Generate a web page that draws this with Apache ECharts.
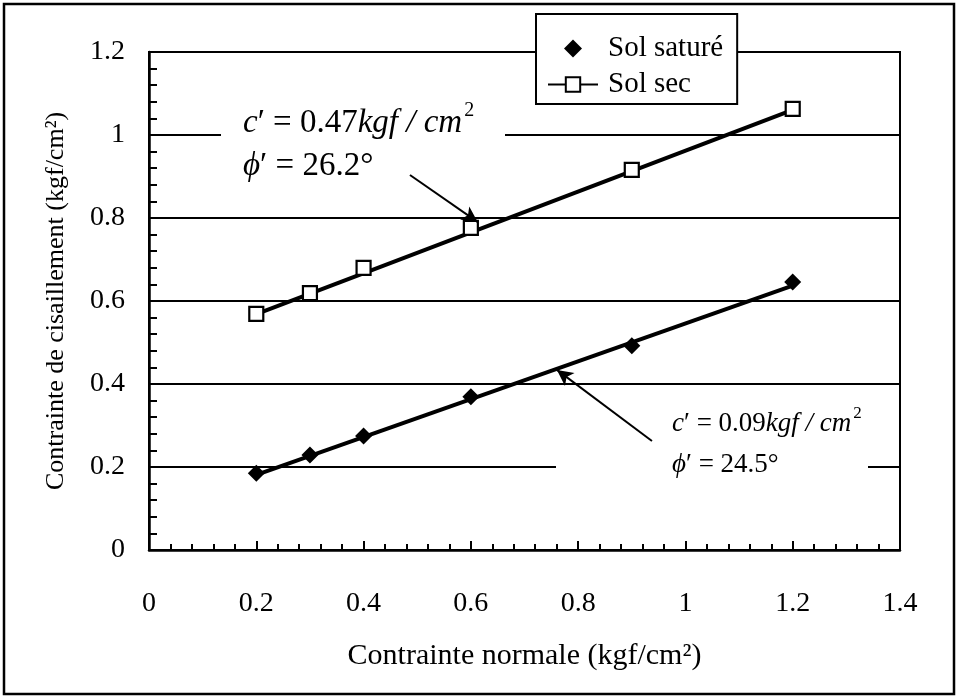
<!DOCTYPE html>
<html>
<head>
<meta charset="utf-8">
<script src="https://cdn.jsdelivr.net/npm/echarts@6/dist/echarts.min.js"></script>
<style>
  html, body { margin: 0; padding: 0; background: #fff; }
  #chart { width: 958px; height: 699px; }
</style>
</head>
<body>
<div id="chart"></div>
<script>
// Normal stress (kgf/cm²) applied in each shear test
const normalStress = [0.2, 0.3, 0.4, 0.6, 0.9, 1.2];
// Measured shear strength (kgf/cm²)
const shearSaturated = [0.185, 0.229, 0.275, 0.369, 0.492, 0.646];
const shearDry = [0.569, 0.619, 0.680, 0.776, 0.916, 1.063];

// Mohr-Coulomb parameters: cohesion c' (kgf/cm²) and friction angle phi' (deg)
const dryParams = { c: 0.47, phi: 26.2 };
const satParams = { c: 0.09, phi: 24.5 };
const fitRange = [0.2, 1.2];

const xTicks = { min: 0, max: 1.4, interval: 0.2 };
const yTicks = { min: 0, max: 1.2, interval: 0.2 };

const serif = '"Liberation Serif", "Times New Roman", serif';

function envelope(p) {
  const t = Math.tan(p.phi * Math.PI / 180);
  return fitRange.map(x => [x, p.c + t * x]);
}

const chart = echarts.init(document.getElementById('chart'), null, { renderer: 'canvas' });

const arrowStyle = {
  silent: true,
  symbol: ['none', 'arrow'],
  symbolSize: [12, 16],
  lineStyle: { color: '#000', width: 2, type: 'solid' },
  label: { show: false },
  emphasis: { disabled: true }
};

const mathRich = (size) => ({
  i: { fontFamily: serif, fontStyle: 'italic', fontSize: size, color: '#000' },
  n: { fontFamily: serif, fontSize: size, color: '#000' },
  sup: { fontFamily: serif, fontSize: Math.round(size * 0.62), color: '#000', verticalAlign: 'top', padding: [0, 0, Math.round(size * 0.75), 2] }
});

const diamondIcon = 'path://M8,0 L16,8 L8,16 L0,8 Z';

chart.setOption({
  animation: false,
  backgroundColor: '#fff',
  grid: {
    left: 149, right: 58, top: 52, bottom: 149,
    show: true, borderColor: '#000', borderWidth: 2, backgroundColor: 'transparent'
  },
  legend: {
    left: 536, top: 14,
    orient: 'vertical',
    backgroundColor: '#fff',
    borderColor: '#000', borderWidth: 2,
    padding: [20, 14, 5, 11],
    itemWidth: 50, itemHeight: 18, itemGap: 7,
    symbolKeepAspect: true,
    textStyle: { fontFamily: serif, fontSize: 29, color: '#000', padding: [0, 0, 0, 5] },
    data: [
      { name: 'Sol saturé', icon: diamondIcon, itemStyle: { color: '#000', opacity: 1 } },
      { name: 'Sol sec', lineStyle: { color: '#000', width: 2, opacity: 1 } }
    ],
    selectedMode: false
  },
  xAxis: {
    type: 'value',
    min: xTicks.min, max: xTicks.max, interval: xTicks.interval,
    name: 'Contrainte normale (kgf/cm²)',
    nameLocation: 'middle', nameGap: 91,
    nameTextStyle: { fontFamily: serif, fontSize: 30, color: '#000' },
    axisLine: { show: true, lineStyle: { color: '#000', width: 2.5 } },
    axisTick: { show: true, inside: true, length: 9, lineStyle: { color: '#000', width: 2 } },
    minorTick: { show: true, splitNumber: 5, length: 6, lineStyle: { color: '#000', width: 2 } },
    axisLabel: { fontFamily: serif, fontSize: 28, color: '#000', margin: 40, formatter: v => String(+v.toFixed(1)) },
    splitLine: { show: false }
  },
  yAxis: {
    type: 'value',
    min: yTicks.min, max: yTicks.max, interval: yTicks.interval,
    name: 'Contrainte de cisaillement (kgf/cm²)',
    nameLocation: 'middle', nameGap: 80, nameRotate: 90,
    nameTextStyle: { fontFamily: serif, fontSize: 26, color: '#000' },
    axisLine: { show: true, lineStyle: { color: '#000', width: 2.5 } },
    axisTick: { show: true, inside: true, length: 9, lineStyle: { color: '#000', width: 2 } },
    minorTick: { show: true, splitNumber: 5, length: 8, lineStyle: { color: '#000', width: 2 } },
    axisLabel: { fontFamily: serif, fontSize: 28, color: '#000', margin: 24, formatter: v => String(+v.toFixed(1)) },
    splitLine: { show: true, lineStyle: { color: '#000', width: 2 } }
  },
  series: [
    {
      name: 'Enveloppe sec',
      type: 'line',
      data: envelope(dryParams),
      symbol: 'none',
      lineStyle: { color: '#000', width: 4 },
      z: 3,
      silent: true,
      markLine: Object.assign({
        data: [[{ coord: [0.4865, 0.9036] }, { coord: [0.613, 0.79] }]]
      }, arrowStyle)
    },
    {
      name: 'Enveloppe saturé',
      type: 'line',
      data: envelope(satParams),
      symbol: 'none',
      lineStyle: { color: '#000', width: 4 },
      z: 3,
      silent: true,
      markLine: Object.assign({
        data: [[{ coord: [0.9376, 0.2627] }, { coord: [0.7605, 0.434] }]]
      }, arrowStyle)
    },
    {
      name: 'Sol saturé',
      type: 'scatter',
      data: normalStress.map((x, i) => [x, shearSaturated[i]]),
      symbol: 'diamond',
      symbolSize: 17,
      itemStyle: { color: '#000', opacity: 1 },
      z: 4
    },
    {
      name: 'Sol sec',
      type: 'line',
      data: normalStress.map((x, i) => [x, shearDry[i]]),
      symbol: 'rect',
      symbolSize: 14,
      showAllSymbol: true,
      itemStyle: { color: '#fff', borderColor: '#000', borderWidth: 2.2 },
      lineStyle: { color: '#000', width: 2, opacity: 0 },
      z: 4
    }
  ],
  graphic: [
    // outer frame
    { type: 'rect', z: 0, shape: { x: 4, y: 4, width: 950, height: 690 }, style: { fill: 'none', stroke: '#000', lineWidth: 2.5 } },
    // white panels behind the annotations
    { type: 'rect', z: 1, shape: { x: 221, y: 95, width: 284, height: 95 }, style: { fill: '#fff' } },
    { type: 'rect', z: 1, shape: { x: 556, y: 398, width: 312, height: 100 }, style: { fill: '#fff' } },
    {
      type: 'text', z: 100, left: 243, top: 101,
      style: {
        text: "{i|c}{n|′ = 0.47}{i|kgf / cm}{sup|2}",
        rich: mathRich(33)
      }
    },
    {
      type: 'text', z: 100, left: 243, top: 150,
      style: {
        text: "{i|ϕ}{n|′ = 26.2°}",
        rich: mathRich(33)
      }
    },
    {
      type: 'text', z: 100, left: 672, top: 405,
      style: {
        text: "{i|c}{n|′ = 0.09}{i|kgf / cm}{sup|2}",
        rich: mathRich(27)
      }
    },
    {
      type: 'text', z: 100, left: 672, top: 451,
      style: {
        text: "{i|ϕ}{n|′ = 24.5°}",
        rich: mathRich(27)
      }
    }
  ]
});
</script>
</body>
</html>
